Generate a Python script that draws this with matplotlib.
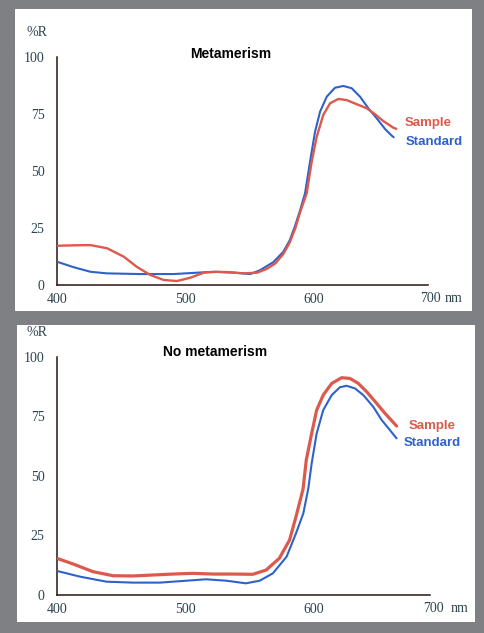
import matplotlib
matplotlib.use("Agg")
import matplotlib.pyplot as plt
from matplotlib.patches import Rectangle

W, H = 485, 633

# ---- data (wavelength nm, %R) ----
top_sample_nm = [400, 413, 426, 439, 452, 462, 472.6, 483, 493.4, 503.8, 514.2, 524.5, 534.9, 545.3, 555.6,
                 563, 570, 576, 581, 585.5, 589.5, 594.3, 598.2, 602.1, 607.2, 612.5, 618.9, 625.4, 633.2,
                 641, 647.5, 653.9, 661.7, 664]
top_sample_r = [17.2, 17.4, 17.5, 16.1, 12.4, 8.0, 4.4, 2.2, 1.75, 3.2, 5.4, 5.8, 5.6, 5.1, 5.4,
                7.0, 9.5, 13.5, 18.5, 25.0, 32.5, 40.2, 54.1, 65.0, 74.6, 79.7, 81.6, 81.1, 79.3,
                77.5, 74.9, 71.9, 69.0, 68.5]

top_standard_nm = [400, 413, 426, 439, 464.8, 490.8, 509, 522, 537.5, 550.4, 558, 568.3, 576, 581, 585,
                   589, 593, 596.9, 600.8, 604.7, 609.9, 616.3, 622.8, 629.3, 635.8, 642.3, 648.8,
                   655.3, 660.5, 662]
top_standard_r = [10.2, 7.8, 5.8, 5.1, 4.8, 4.8, 5.4, 5.8, 5.4, 4.8, 6.5, 10.0, 14.5, 19.5, 25.5,
                  32.5, 40.2, 54.1, 67.2, 76.0, 82.6, 86.5, 87.3, 86.3, 82.6, 77.5, 73.1,
                  68.4, 65.5, 64.8]

bot_sample_nm = [400, 412.7, 428, 443.6, 459, 474.7, 490, 505.7, 521, 537, 552.4, 562.8, 573, 581, 586,
                 591.5, 594, 598.2, 602.1, 607.2, 613.8, 621.6, 628, 634.5, 641, 648.8, 655.3, 664.3]
bot_sample_r = [15.4, 13.0, 9.8, 8.1, 8.0, 8.4, 8.8, 9.1, 8.8, 8.8, 8.7, 10.5, 15.4, 23.1, 32.9,
                44.5, 56.7, 67.9, 77.7, 84.0, 88.9, 91.3, 91.0, 88.9, 85.4, 80.5, 76.3, 71.0]

bot_standard_nm = [400, 418, 438.5, 459, 480, 500.6, 516, 532, 547, 557.7, 568, 578.7, 586, 591.7,
                   595.6, 598.2, 602.1, 607.2, 613.8, 620.2, 625.4, 631.9, 638.4, 646.1, 652.7,
                   659.1, 664.3]
bot_standard_r = [10.1, 7.7, 5.6, 5.2, 5.2, 6.0, 6.6, 6.0, 4.9, 6.0, 9.1, 16.1, 25.9, 34.3,
                  44.8, 55.3, 67.9, 77.7, 84.0, 87.3, 87.9, 86.8, 84.0, 79.1, 73.5,
                  69.3, 65.8]

x_ticks = [400, 500, 600]
y_ticks = [0, 25, 50, 75, 100]
titles = ["Metamerism", "No metamerism"]

RED = "#dc5a4c"
BLUE = "#2f62c8"
LABEL = "#2c4450"
AXIS = "#2a1410"

fig = plt.figure(figsize=(W / 100, H / 100), dpi=100)
fig.patch.set_facecolor("#7f8083")


def fx(x):
    return x / W


def fy(y):
    return (H - y) / H


def panel(x0, y0, x1, y1):
    fig.patches.append(Rectangle((fx(x0), fy(y1)), fx(x1) - fx(x0), fy(y0) - fy(y1),
                                 transform=fig.transFigure, facecolor="white",
                                 edgecolor="none", zorder=-10))


panel(15, 9, 472, 311)
panel(17, 325, 475, 622)

specs = [
    dict(ax=(57, 57, 428, 285), xmax=688.7,
         s=(top_sample_nm, top_sample_r), d=(top_standard_nm, top_standard_r),
         slw=1.7, dlw=1.5,
         title=(231, 54), pr=(48, 33), samp=(405, 123), std=(406, 142),
         t700=(430, 298), tnm=(454, 298)),
    dict(ax=(57, 357, 430, 595), xmax=690.3,
         s=(bot_sample_nm, bot_sample_r), d=(bot_standard_nm, bot_standard_r),
         slw=2.3, dlw=1.5,
         title=(215, 352), pr=(48, 332), samp=(409, 426), std=(404, 443),
         t700=(433, 609), tnm=(460, 609)),
]

for i, sp in enumerate(specs):
    x0, y0, x1, y1 = sp["ax"]
    ax = fig.add_axes([fx(x0), fy(y1), fx(x1) - fx(x0), fy(y0) - fy(y1)])
    ax.set_facecolor("none")
    ax.set_zorder(1)
    ax.set_xlim(400, sp["xmax"])
    ax.set_ylim(0, 100)
    ax.plot(sp["d"][0], sp["d"][1], color=BLUE, lw=sp["dlw"], solid_capstyle="round",
            solid_joinstyle="round", zorder=3)
    ax.plot(sp["s"][0], sp["s"][1], color=RED, lw=sp["slw"], solid_capstyle="round",
            solid_joinstyle="round", zorder=4)
    for side in ["top", "right"]:
        ax.spines[side].set_visible(False)
    for side in ["left", "bottom"]:
        ax.spines[side].set_color(AXIS)
        ax.spines[side].set_linewidth(1.1)
    ax.set_xticks(x_ticks)
    ax.set_yticks(y_ticks)
    ax.tick_params(length=0, colors=LABEL, labelsize=10)
    ax.tick_params(axis="y", pad=9)
    ax.tick_params(axis="x", pad=6)
    for lab in ax.get_xticklabels() + ax.get_yticklabels():
        lab.set_fontfamily("Liberation Serif")
    fig.text(fx(sp["title"][0]), fy(sp["title"][1]), titles[i], ha="center", va="center",
             fontsize=10, fontweight="bold", family="Liberation Sans", color="black")
    fig.text(fx(sp["pr"][0]), fy(sp["pr"][1]), "%R", ha="right", va="center",
             fontsize=10, family="Liberation Serif", color=LABEL)
    fig.text(fx(sp["t700"][0]), fy(sp["t700"][1]), "700", ha="center", va="center",
             fontsize=10, family="Liberation Serif", color=LABEL)
    fig.text(fx(sp["tnm"][0]), fy(sp["tnm"][1]), "nm", ha="center", va="center",
             fontsize=10, family="Liberation Serif", color=LABEL)
    fig.text(fx(sp["samp"][0]), fy(sp["samp"][1]), "Sample", ha="left", va="center",
             fontsize=9.5, fontweight="bold", family="Liberation Sans", color=RED)
    fig.text(fx(sp["std"][0]), fy(sp["std"][1]), "Standard", ha="left", va="center",
             fontsize=9.5, fontweight="bold", family="Liberation Sans", color=BLUE)

fig.savefig("out.png", dpi=100, facecolor=fig.get_facecolor())
